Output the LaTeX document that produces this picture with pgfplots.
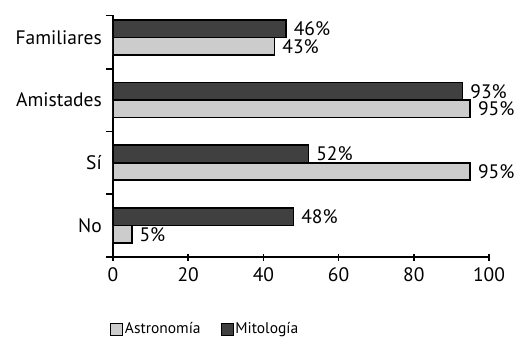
\documentclass[border=0pt]{standalone}
\usepackage{pgfplots}
\pgfplotsset{compat=1.18}
\usepackage{fontspec}
\setmainfont{PT Sans}
\definecolor{darkbar}{HTML}{404040}
\definecolor{lightbar}{HTML}{CCCCCC}
\begin{document}
\begin{tikzpicture}
\useasboundingbox (-113bp,-83.2bp) rectangle (409bp,256.8bp);
\begin{axis}[
  at={(0,0)}, anchor=south west,
  scale only axis, width=376bp, height=241.3bp,
  xmin=0, xmax=100, ymin=-0.5, ymax=3.35,
  axis x line*=bottom, axis y line*=left,
  axis line style={line width=1.6bp},
  every tick/.style={line width=1.6bp, black},
  tick align=outside,
  major tick length=7bp,
  xtick={0,20,40,60,80,100},
  xtick style={yshift=3bp},
  ytick={-0.5,0.5,1.5,2.5,3.35},
  yticklabels={},
  extra y ticks={0,1,2,3},
  extra y tick labels={No,Sí,Amistades,Familiares},
  extra y tick style={major tick length=0pt, yticklabel style={inner sep=0pt, xshift=-11bp}},
  /pgf/number format/assume math mode=true,
  tick label style={font=\fontsize{19.5bp}{22bp}\selectfont},
  xbar, bar width=17.5bp,
  nodes near coords={\pgfmathprintnumber{\pgfplotspointmeta}\%},
  every node near coord/.append style={font=\fontsize{19.5bp}{22bp}\selectfont, inner sep=0pt, xshift=7bp, anchor=west, black},
  legend columns=2,
  legend style={at={(-0.016,-0.299)}, anchor=west, draw=none, fill=none,
    font=\fontsize{15.5bp}{17bp}\selectfont,
    /tikz/every even column/.append style={column sep=18bp},
    nodes={inner sep=2bp}},
  legend image code/.code={\draw[#1, line width=0.8bp] (0bp,-6bp) rectangle (12bp,6bp);},
]
\addplot[fill=lightbar, draw=black, line width=1.6bp, bar shift=-8.75bp] coordinates {(5,0) (95,1) (95,2) (43,3)};
\addlegendentry{Astronomía}
\addplot[fill=darkbar, draw=black, line width=1.6bp, bar shift=8.75bp] coordinates {(48,0) (52,1) (93,2) (46,3)};
\addlegendentry{Mitología}
\end{axis}
\end{tikzpicture}
\end{document}
